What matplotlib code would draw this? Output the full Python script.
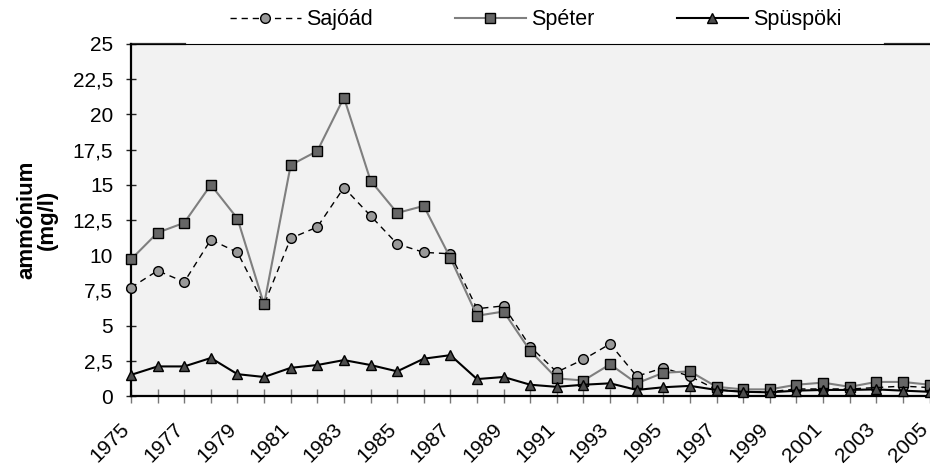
import numpy as np
import matplotlib
matplotlib.use("Agg")
import matplotlib.pyplot as plt
from matplotlib.transforms import ScaledTranslation

plt.rcParams['font.family'] = ['Liberation Sans', 'DejaVu Sans']

# --- data ---
years = list(range(1975, 2006))

sajoad = [7.7, 8.9, 8.1, 11.1, 10.2, 6.5, 11.2, 12.0, 14.8, 12.8,
          10.8, 10.2, 10.1, 6.2, 6.4, 3.5, 1.7, 2.6, 3.7, 1.4,
          2.0, 1.4, 0.45, 0.3, 0.3, 0.5, 0.5, 0.5, 0.6, 0.7, 0.6]
speter = [9.7, 11.6, 12.3, 15.0, 12.6, 6.5, 16.4, 17.4, 21.2, 15.3,
          13.0, 13.5, 9.8, 5.7, 6.0, 3.2, 1.25, 1.1, 2.25, 0.9,
          1.65, 1.75, 0.65, 0.47, 0.47, 0.8, 0.95, 0.65, 1.0, 1.0, 0.8]
spuspoki = [1.5, 2.1, 2.1, 2.7, 1.55, 1.35, 2.0, 2.2, 2.55, 2.2,
            1.75, 2.65, 2.9, 1.2, 1.35, 0.8, 0.65, 0.8, 0.9, 0.43,
            0.62, 0.72, 0.43, 0.3, 0.26, 0.38, 0.43, 0.43, 0.47, 0.38, 0.3]

y_ticks = [0, 2.5, 5, 7.5, 10, 12.5, 15, 17.5, 20, 22.5, 25]
y_tick_labels = [f"{v:g}".replace('.', ',') for v in y_ticks]
x_tick_labels = [str(y) if y % 2 == 1 else '' for y in years]

fig = plt.figure(figsize=(9.3, 4.66), dpi=100)
ax = fig.add_axes([131 / 930, 1 - 396 / 466, 798.5 / 930, 352 / 466])
ax.set_facecolor('#f2f2f2')

ax.plot(years, sajoad, color='black', lw=1.0, dashes=(4.5, 3.5),
        marker='o', markersize=7, markerfacecolor='#999999',
        markeredgecolor='black', markeredgewidth=1.0, clip_on=False,
        label='Sajóád', zorder=3)
ax.plot(years, speter, color='#7f7f7f', lw=1.5,
        marker='s', markersize=7, markerfacecolor='#666666',
        markeredgecolor='black', markeredgewidth=1.0, clip_on=False,
        label='Spéter', zorder=4)
ax.plot(years, spuspoki, color='black', lw=1.5,
        marker='^', markersize=7.5, markerfacecolor='#4d4d4d',
        markeredgecolor='black', markeredgewidth=1.0, clip_on=False,
        label='Spüspöki', zorder=5)

ax.set_xlim(1975, 2005)
ax.set_ylim(0, 25)

ax.set_yticks(y_ticks)
ax.set_yticklabels(y_tick_labels)
ax.set_xticks(years)
ax.set_xticklabels(x_tick_labels, rotation=45, ha='right', rotation_mode='anchor')

ax.tick_params(axis='y', direction='inout', length=7.7, width=1.0,
               color='#222222', labelsize=15, pad=9)
ax.tick_params(axis='x', direction='inout', length=9.4, width=1.0,
               color='#777777', labelsize=15, pad=12)

# rotated year labels sit a little left of their ticks
shift = ScaledTranslation(-11 / 100, 0, fig.dpi_scale_trans)
for lbl in ax.get_xticklabels():
    lbl.set_transform(lbl.get_transform() + shift)

for side in ['left', 'bottom']:
    ax.spines[side].set_color('black')
    ax.spines[side].set_linewidth(1.6)
    ax.spines[side].set_zorder(2)
ax.spines['right'].set_visible(False)
ax.spines['top'].set_color('black')
ax.spines['top'].set_linewidth(0.8)
# thicker plot-area border showing at both ends of the top edge
ax.axhline(25, xmin=0, xmax=54 / 798, color='#333333', lw=1.6, clip_on=False)
ax.axhline(25, xmin=1 - 44 / 798, xmax=1, color='#333333', lw=1.6, clip_on=False)

ax.set_ylabel('ammónium\n(mg/l)', fontsize=16, fontweight='bold',
              linespacing=1.0)
ax.yaxis.set_label_coords(-73 / 798.5, 0.5)

fig.legend(loc='center', bbox_to_anchor=(0.576, 1 - 20 / 466), ncol=3,
           frameon=False, fontsize=15.5, handlelength=3.3, handletextpad=0.25,
           columnspacing=3.8, numpoints=1, borderpad=0)

fig.savefig('out.png', dpi=100)
